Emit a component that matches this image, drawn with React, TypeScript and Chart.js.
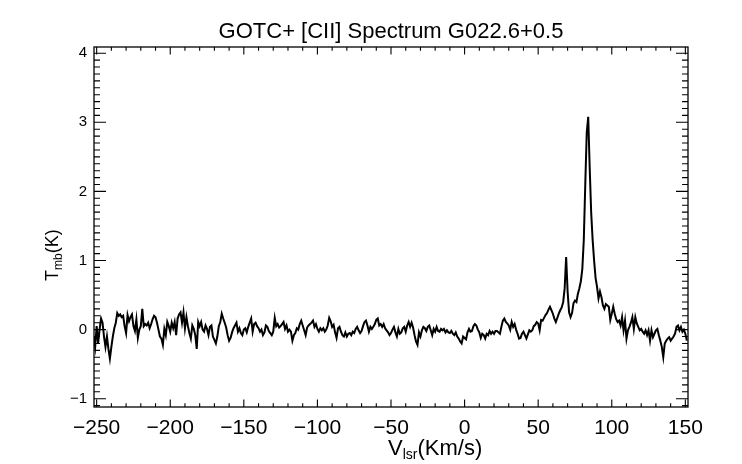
import React, { useEffect, useRef } from "react";
import { Chart, registerables } from "chart.js";

Chart.register(...registerables);

// Velocity grid of the spectrum channels (km/s)
const V_START = -252;
const V_STEP = 1;

// Tmb (K), channels -252 .. -101 km/s
const TMB_A = [
  -0.10, -0.25, 0.05, -0.20, 0.00, 0.16, 0.10, -0.10, -0.25, -0.10,
  -0.28, -0.42, -0.25, -0.10, 0.02, 0.10, 0.24, 0.20, 0.22, 0.18,
  0.20, 0.05, -0.05, 0.21, 0.12, 0.18, 0.22, 0.05, -0.02, 0.15,
  -0.12, 0.00, 0.05, 0.30, 0.05, 0.08, 0.06, 0.10, 0.02, 0.08,
  0.15, 0.20, 0.18, 0.10, 0.00, -0.10, -0.13, -0.22, 0.01, -0.08,
  0.11, 0.05, -0.03, 0.10, 0.02, 0.11, -0.08, 0.16, 0.22, 0.25,
  0.10, 0.25, 0.02, 0.18, 0.05, -0.05, -0.13, 0.06, 0.01, -0.08,
  -0.28, 0.11, 0.05, 0.11, 0.00, -0.03, 0.06, 0.01, -0.08, 0.04,
  0.06, -0.10, -0.15, -0.20, -0.10, 0.05, 0.11, 0.23, 0.16, 0.10,
  0.03, -0.08, -0.16, -0.12, -0.04, 0.02, 0.06, 0.10, -0.03, 0.02,
  -0.05, -0.08, 0.00, 0.02, -0.04, 0.04, 0.10, 0.16, -0.03, 0.08,
  0.10, 0.05, 0.02, -0.03, 0.00, -0.08, -0.04, 0.06, 0.04, -0.02,
  -0.05, -0.08, -0.03, 0.17, 0.05, 0.08, 0.03, 0.05, 0.08, 0.11,
  0.01, 0.06, -0.03, 0.00, -0.03, -0.16, -0.08, -0.05, 0.02, 0.00,
  0.08, 0.13, 0.06, -0.01, -0.08, 0.03, 0.06, 0.08, 0.10, 0.13,
  0.04, 0.08,
];

// channels -100 .. 49 km/s
const TMB_B = [
  0.01, -0.03, 0.02, -0.01, 0.02, -0.03, 0.00, 0.06, 0.17, 0.12,
  0.04, 0.07, -0.04, -0.12, 0.02, 0.04, -0.03, -0.08, -0.10, -0.04,
  -0.10, -0.06, -0.05, -0.08, -0.03, -0.05, 0.01, 0.04, -0.01, -0.05,
  -0.02, 0.05, 0.11, 0.13, 0.06, -0.03, 0.04, 0.01, 0.04, 0.08,
  0.14, 0.16, 0.06, 0.08, 0.04, 0.08, 0.02, -0.01, -0.04, -0.08,
  -0.05, 0.00, 0.04, -0.04, -0.10, 0.01, -0.06, -0.04, 0.02, 0.04,
  -0.03, 0.06, 0.11, 0.04, 0.10, 0.03, -0.08, -0.17, -0.22, -0.04,
  -0.10, -0.01, 0.04, 0.02, -0.02, 0.04, 0.06, -0.01, -0.08, 0.01,
  -0.03, 0.04, -0.02, -0.03, 0.01, -0.01, 0.01, -0.04, -0.01, -0.04,
  -0.05, -0.02, -0.06, -0.08, -0.04, -0.10, -0.13, -0.17, -0.20, -0.10,
  -0.12, -0.14, -0.04, 0.01, -0.03, -0.02, 0.05, 0.08, 0.06, 0.00,
  -0.04, -0.12, -0.06, -0.08, -0.13, -0.06, -0.08, -0.02, -0.06, -0.03,
  -0.06, -0.02, -0.02, -0.04, -0.06, 0.04, 0.13, 0.16, 0.11, 0.09,
  0.06, 0.00, 0.11, 0.04, 0.08, 0.00, -0.06, -0.13, -0.12, -0.06,
  -0.03, -0.08, -0.13, -0.07, -0.01, -0.03, -0.01, 0.05, 0.07, 0.11,
];

// channels 50 .. 151 km/s (line emission)
const TMB_C = [
  0.09, -0.01, 0.14, 0.13, 0.17, 0.21, 0.24, 0.29, 0.33, 0.28,
  0.23, 0.16, 0.11, 0.17, 0.23, 0.28, 0.32, 0.40, 0.60, 1.05,
  0.55, 0.25, 0.18, 0.24, 0.38, 0.42, 0.40, 0.52, 0.60, 0.70,
  0.88, 1.30, 2.10, 2.85, 3.08, 2.35, 1.70, 1.30, 1.00, 0.75,
  0.62, 0.45, 0.55, 0.47, 0.35, 0.30, 0.37, 0.35, 0.33, 0.14,
  0.23, 0.33, 0.23, 0.15, 0.11, 0.13, 0.06, 0.18, -0.01, 0.13,
  -0.13, -0.01, 0.04, 0.10, 0.18, 0.01, 0.18, 0.09, 0.04, -0.01,
  0.01, -0.03, -0.06, -0.01, -0.08, -0.01, -0.16, -0.01, -0.11, -0.06,
  -0.01, 0.01, -0.08, -0.16, -0.25, -0.40, -0.20, -0.16, -0.13, -0.11,
  -0.16, -0.13, -0.10, -0.06, 0.04, 0.06, -0.01, 0.04, -0.03, 0.00,
  -0.06, -0.16,
];

const X_MIN = -251.8;
const X_MAX = 151.8;
const Y_MIN = -1.12;
const Y_MAX = 4.09;
const X_TICKS = [-250, -200, -150, -100, -50, 0, 50, 100, 150];
const Y_TICKS = [-1, 0, 1, 2, 3, 4];

const TITLE = "GOTC+ [CII] Spectrum G022.6+0.5";
const FONT = '"Liberation Sans", Arial, Helvetica, sans-serif';

const minus = (v: number) => (v < 0 ? "\u2212" + Math.abs(v) : String(v));

const idlFrame = {
  id: "idlFrame",
  afterDraw(chart: any) {
    const { ctx, chartArea: a, scales } = chart;
    const xs = scales.x;
    const ys = scales.y;
    ctx.save();
    ctx.strokeStyle = "#000";
    ctx.lineWidth = 1.3;
    ctx.strokeRect(a.left, a.top, a.right - a.left, a.bottom - a.top);
    ctx.lineWidth = 1.1;
    ctx.beginPath();
    for (let k = Math.ceil(xs.min / 10); k * 10 <= xs.max; k++) {
      const px = xs.getPixelForValue(k * 10);
      const len = k % 5 === 0 ? 7.5 : 3.8;
      ctx.moveTo(px, a.bottom);
      ctx.lineTo(px, a.bottom - len);
      ctx.moveTo(px, a.top);
      ctx.lineTo(px, a.top + len);
    }
    for (let k = Math.ceil(ys.min * 10); k <= Math.floor(ys.max * 10); k++) {
      const py = ys.getPixelForValue(k / 10);
      const len = k % 10 === 0 ? 12 : 6;
      ctx.moveTo(a.left, py);
      ctx.lineTo(a.left + len, py);
      ctx.moveTo(a.right, py);
      ctx.lineTo(a.right - len, py);
    }
    ctx.stroke();

    ctx.fillStyle = "#000";
    // title
    ctx.font = `22px ${FONT}`;
    ctx.textAlign = "center";
    ctx.textBaseline = "alphabetic";
    ctx.fillText(TITLE, (a.left + a.right) / 2, 38);

    // x title: V_lsr(Km/s)
    ctx.textAlign = "left";
    let x0 = 388;
    const yb = 455;
    ctx.font = `22px ${FONT}`;
    ctx.fillText("V", x0, yb);
    x0 += ctx.measureText("V").width;
    ctx.font = `14px ${FONT}`;
    ctx.fillText("lsr", x0, yb + 4);
    x0 += ctx.measureText("lsr").width;
    ctx.font = `22px ${FONT}`;
    ctx.fillText("(Km/s)", x0, yb);

    // y title: T_mb(K), rotated
    ctx.save();
    ctx.translate(58, 281);
    ctx.rotate(-Math.PI / 2);
    let t0 = 0;
    ctx.font = `18px ${FONT}`;
    ctx.fillText("T", t0, 0);
    t0 += ctx.measureText("T").width;
    ctx.font = `12px ${FONT}`;
    ctx.fillText("mb", t0, 4);
    t0 += ctx.measureText("mb").width;
    ctx.font = `18px ${FONT}`;
    ctx.fillText("(K)", t0, 0);
    ctx.restore();
    ctx.restore();
  },
};

export default function App() {
  const ref = useRef<HTMLCanvasElement | null>(null);

  useEffect(() => {
    if (!ref.current) return;
    const tmb = [...TMB_A, ...TMB_B, ...TMB_C];
    const points = tmb.map((t, i) => ({ x: V_START + i * V_STEP, y: t }));
    const chart = new Chart(ref.current, {
      type: "line",
      data: {
        datasets: [
          {
            data: points,
            borderColor: "#000",
            borderWidth: 2,
            pointRadius: 0,
            tension: 0,
            fill: false,
          },
        ],
      },
      options: {
        animation: false,
        responsive: false,
        devicePixelRatio: 1,
        layout: { padding: { left: 0, right: 54, top: 47, bottom: 0 } },
        plugins: { legend: { display: false }, tooltip: { enabled: false }, title: { display: false } },
        scales: {
          x: {
            type: "linear",
            min: X_MIN,
            max: X_MAX,
            grid: { display: false, drawTicks: false },
            border: { display: false },
            afterFit: (s: any) => {
              s.height = 57;
            },
            afterBuildTicks: (s: any) => {
              s.ticks = X_TICKS.map((v) => ({ value: v }));
            },
            ticks: {
              includeBounds: false,
              autoSkip: false,
              maxRotation: 0,
              padding: 9,
              color: "#000",
              font: { family: FONT, size: 21 },
              callback: (v: any) => minus(Number(v)),
            },
          },
          y: {
            type: "linear",
            min: Y_MIN,
            max: Y_MAX,
            grid: { display: false, drawTicks: false },
            border: { display: false },
            afterFit: (s: any) => {
              s.width = 94;
            },
            afterBuildTicks: (s: any) => {
              s.ticks = Y_TICKS.map((v) => ({ value: v }));
            },
            ticks: {
              includeBounds: false,
              autoSkip: false,
              padding: 7,
              color: "#000",
              font: { family: FONT, size: 15 },
              callback: (v: any) => minus(Number(v)),
            },
          },
        },
      },
      plugins: [idlFrame],
    });
    return () => chart.destroy();
  }, []);

  return (
    <div style={{ position: "fixed", left: 0, top: 0, width: 742, height: 464, background: "#fff" }}>
      <canvas ref={ref} width={742} height={464} style={{ width: 742, height: 464 }} />
    </div>
  );
}
